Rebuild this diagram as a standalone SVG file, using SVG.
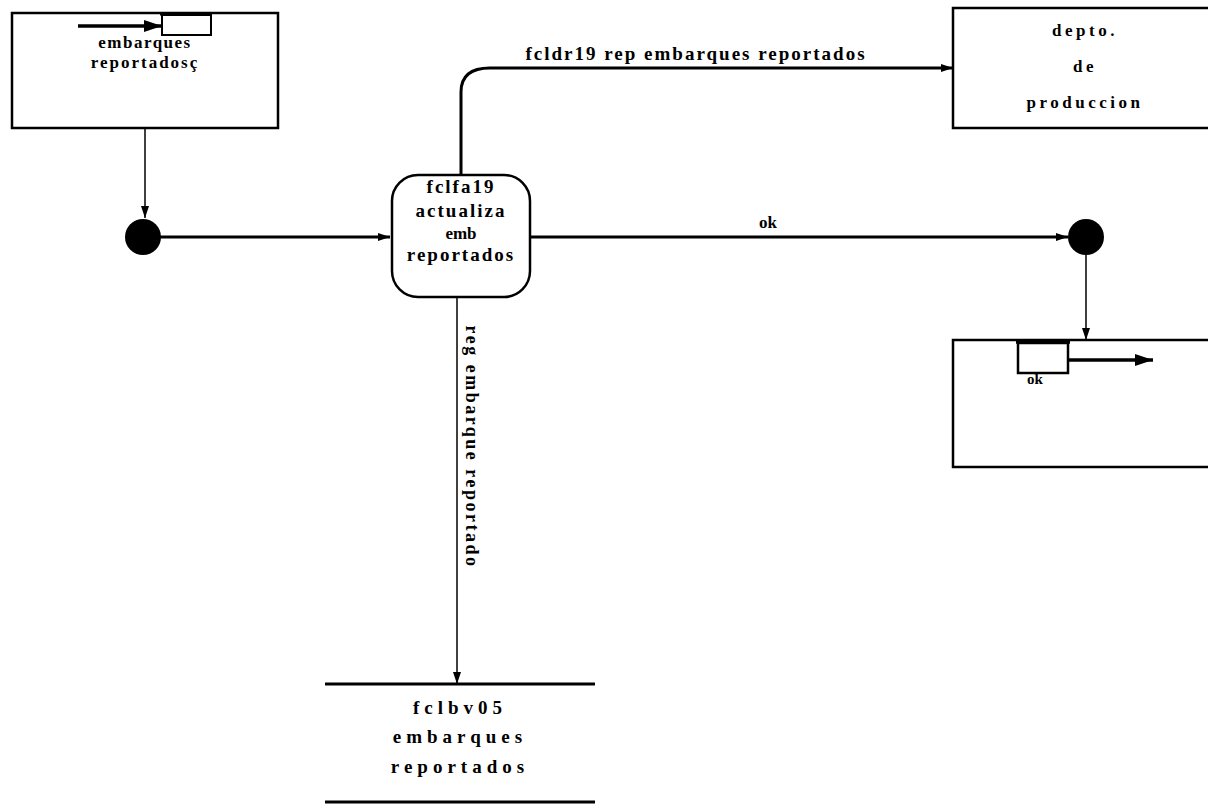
<svg xmlns="http://www.w3.org/2000/svg" width="1208" height="804" viewBox="0 0 1208 804">
<defs>
<marker id="ah" markerWidth="12" markerHeight="8" refX="12" refY="4" orient="auto" markerUnits="userSpaceOnUse">
<path d="M0,0 L12,4 L0,8 Z" fill="#000"/>
</marker>
<marker id="ahb" markerWidth="18" markerHeight="12" refX="18" refY="6" orient="auto" markerUnits="userSpaceOnUse">
<path d="M0,0 L18,6 L0,12 Z" fill="#000"/>
</marker>
<style>
.t{font-family:"Liberation Serif","Times New Roman",serif;font-weight:bold;font-size:19px;fill:#000;text-anchor:middle}
.box{fill:#fff;stroke:#000;stroke-width:2.5}
.ln{fill:none;stroke:#000;stroke-width:3}
.thin{fill:none;stroke:#000;stroke-width:1.5}
</style>
</defs>
<rect width="1208" height="804" fill="#fff"/>
<g id="connectors">
<line class="thin" x1="145" y1="128" x2="145" y2="218" marker-end="url(#ah)"/>
<line class="ln" x1="158" y1="237" x2="390" y2="237" marker-end="url(#ah)"/>
<path class="ln" d="M461,175 L461,92 Q461,68 490,68 L953,68" marker-end="url(#ah)"/>
<text class="t" x="696" y="60" style="letter-spacing:2px">fcldr19 rep embarques reportados</text>
<line class="ln" x1="530" y1="237" x2="1068" y2="237" marker-end="url(#ah)"/>
<text class="t" x="768" y="228" style="font-size:17px">ok</text>
<line class="thin" x1="1086" y1="255" x2="1086" y2="340" marker-end="url(#ah)"/>
<line class="thin" x1="457" y1="298" x2="457" y2="684" marker-end="url(#ah)"/>
<text class="t" transform="translate(466,447) rotate(90)" style="letter-spacing:2.5px;font-size:18px">reg embarque reportado</text>
</g>
<g id="src">
<rect class="box" x="12" y="13" width="266" height="115"/>
<line x1="78" y1="26" x2="162" y2="26" stroke="#000" stroke-width="3.5" marker-end="url(#ahb)"/>
<rect x="162" y="15" width="49" height="20" fill="#fff" stroke="#000" stroke-width="2"/>
<line x1="160" y1="14" x2="212" y2="14" stroke="#000" stroke-width="3"/>
<text class="t" x="145" y="48" style="letter-spacing:1.5px;font-size:17px">embarques</text>
<text class="t" x="145" y="68" style="letter-spacing:2px;font-size:17px">reportadosç</text>
</g>
<g id="junction1">
<circle cx="143" cy="237" r="18" fill="#000"/>
</g>
<g id="process">
<rect class="box" x="392" y="175" width="138" height="122" rx="26" ry="26"/>
<text class="t" x="461" y="193" style="letter-spacing:2px">fclfa19</text>
<text class="t" x="461" y="217" style="letter-spacing:2px">actualiza</text>
<text class="t" x="461" y="239" style="font-size:17px">emb</text>
<text class="t" x="461" y="261" style="letter-spacing:2px">reportados</text>
</g>
<g id="depto">
<rect class="box" x="953" y="8" width="270" height="120"/>
<text class="t" x="1085" y="36" style="letter-spacing:3.5px;font-size:17px">depto.</text>
<text class="t" x="1085" y="72" style="letter-spacing:3.5px;font-size:17px">de</text>
<text class="t" x="1085" y="108" style="letter-spacing:3.5px;font-size:17px">produccion</text>
</g>
<g id="junction2">
<circle cx="1086" cy="237" r="18" fill="#000"/>
</g>
<g id="dest">
<rect class="box" x="953" y="340" width="270" height="127"/>
<rect x="1018" y="343" width="50" height="30" fill="#fff" stroke="#000" stroke-width="2.5"/>
<line x1="1016" y1="342" x2="1070" y2="342" stroke="#000" stroke-width="3.5"/>
<line x1="1068" y1="360" x2="1153" y2="360" stroke="#000" stroke-width="3.5" marker-end="url(#ahb)"/>
<text class="t" x="1035" y="384" style="font-size:15px">ok</text>
</g>
<g id="store">
<line class="ln" x1="325" y1="684" x2="595" y2="684"/>
<line class="ln" x1="325" y1="802" x2="595" y2="802"/>
<text class="t" x="460" y="714" style="letter-spacing:5px">fclbv05</text>
<text class="t" x="460" y="743" style="letter-spacing:5px">embarques</text>
<text class="t" x="460" y="773" style="letter-spacing:5px">reportados</text>
</g>
</svg>
